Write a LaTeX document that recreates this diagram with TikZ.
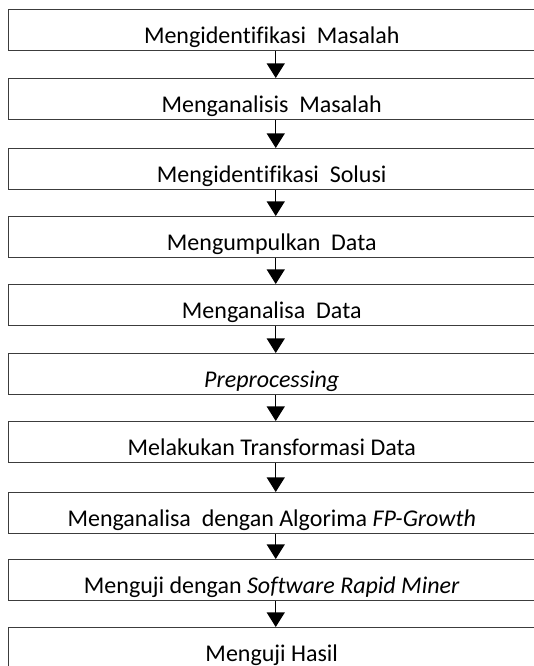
\documentclass[tikz,border=0pt]{standalone}
\usepackage{fontspec}
\setmainfont{Carlito}[Ligatures=NoCommon]
\usetikzlibrary{arrows.meta}
\begin{document}
\begin{tikzpicture}[x=0.75pt,y=-0.75pt,
  stepbox/.style={draw={rgb,255:red,60;green,60;blue,60}, line width=1.1pt,
    minimum width=394.5pt, minimum height=30.5pt, anchor=north west,
    inner sep=0pt, text height=19.5pt, text depth=0pt,
    font=\fontsize{18}{21}\selectfont},
  flow/.style={line width=1.1pt, -{Triangle[width=13.5pt,length=11pt]}}]
\useasboundingbox (0,0) rectangle (534,666);
\clip (0,0) rectangle (534,666);
\node[stepbox] (b1) at (8,9) {Mengidentifikasi~ Masalah};
\node[stepbox] (b2) at (8,78) {Menganalisis~ Masalah};
\node[stepbox] (b3) at (8,148) {Mengidentifikasi~ Solusi};
\node[stepbox] (b4) at (8,216) {Mengumpulkan~ Data};
\node[stepbox] (b5) at (8,284) {Menganalisa~ Data};
\node[stepbox] (b6) at (8,353) {\textit{Preprocessing}};
\node[stepbox] (b7) at (8,421) {Melakukan Transformasi Data};
\node[stepbox] (b8) at (8,492) {Menganalisa~ dengan Algorima \textit{FP-Growth}};
\node[stepbox] (b9) at (8,559) {Menguji dengan \textit{Software Rapid Miner}};
\node[stepbox] (b10) at (8,627) {Menguji Hasil};
\foreach \a/\b in {b1/b2,b2/b3,b3/b4,b4/b5,b5/b6,b6/b7,b7/b8,b8/b9,b9/b10}
  \draw[flow] ([xshift=3pt]\a.south) -- ([xshift=3pt]\b.north);
\end{tikzpicture}
\end{document}
